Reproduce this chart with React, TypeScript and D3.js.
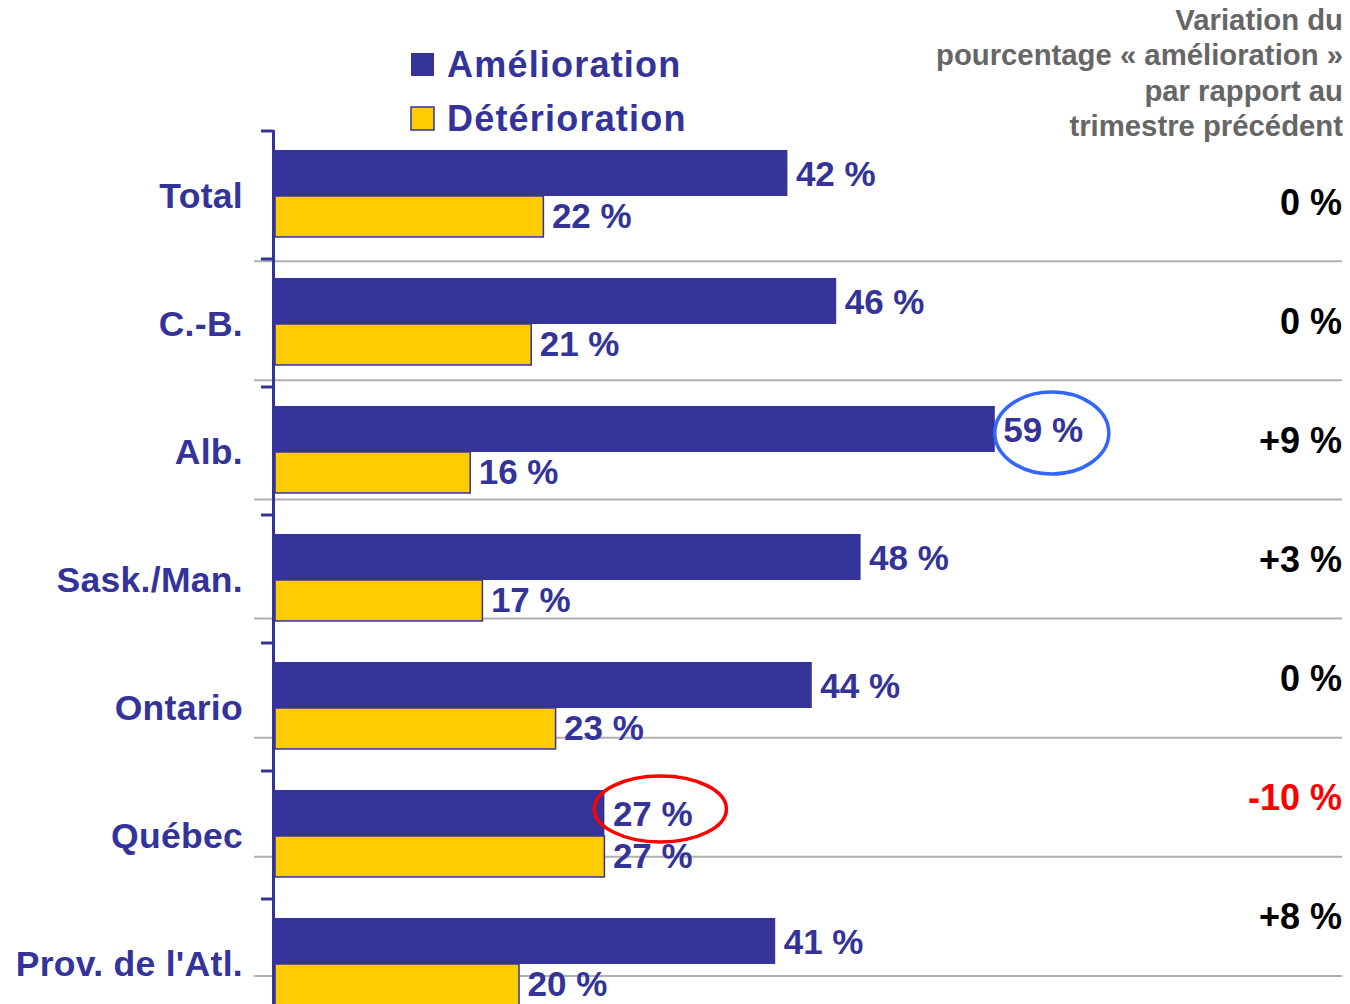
import React from "react";
import * as d3 from "d3";

const categories = ["Total", "C.-B.", "Alb.", "Sask./Man.", "Ontario", "Québec", "Prov. de l'Atl."];
const amelioration = [42, 46, 59, 48, 44, 27, 41];
const deterioration = [22, 21, 16, 17, 23, 27, 20];
const variation = [0, 0, 9, 3, 0, -10, 8];
const headerLines = ["Variation du", "pourcentage « amélioration »", "par rapport au", "trimestre précédent"];
const legendItems = ["Amélioration", "Détérioration"];
const highlights = [
  { category: "Alb.", color: "#3366FF", rx: 57, ry: 41, dy: 4, dx: 57 },
  { category: "Québec", color: "#FF0000", rx: 66, ry: 33, dy: -4, dx: 56 },
];

const W = 1350;
const H = 1004;
const BLUE = "#333399";
const YELLOW = "#FFCC00";
const FONT = "'Liberation Sans', Arial, Helvetica, sans-serif";

function fmtVar(v: number) {
  if (v > 0) return `+${v} %`;
  if (v < 0) return `-${Math.abs(v)} %`;
  return "0 %";
}

export default function App() {
  const x = d3.scaleLinear().domain([0, 10]).range([275, 397]);
  const y = d3.scaleBand<string>().domain(categories).range([130, 1026]).padding(0);
  const row = d3.scaleBand<string>().domain(categories).range([142, 976]).padding(0);
  const step = y.step();
  const blueOff = step * 0.156;
  const blueH = 46;
  const yelH = 41;

  return (
    <svg
      width={W}
      height={H}
      style={{ position: "absolute", left: 0, top: 0, display: "block", background: "#fff" }}
      fontFamily={FONT}
    >
      {/* separator lines */}
      {categories.map((c) => (
        <line
          key={"sep" + c}
          x1={254}
          x2={1342}
          y1={(row(c) as number) + row.step()}
          y2={(row(c) as number) + row.step()}
          stroke="#b0b0b0"
          strokeWidth={2}
        />
      ))}

      {/* header */}
      <text fill="#666666" fontWeight="bold" fontSize={29.3} textAnchor="end">
        {headerLines.map((l, i) => (
          <tspan key={l} x={1343} y={30 + i * 35.3}>
            {l}
          </tspan>
        ))}
      </text>

      {/* legend */}
      {legendItems.map((l, i) => (
        <g key={l}>
          <rect
            x={411}
            y={53 + i * 54}
            width={23}
            height={23}
            fill={i === 0 ? BLUE : YELLOW}
            stroke={BLUE}
            strokeWidth={i === 0 ? 0 : 1.5}
          />
          <text x={447} y={77 + i * 54} fill={BLUE} fontWeight="bold" fontSize={36} letterSpacing={1.2}>
            {l}
          </text>
        </g>
      ))}

      {/* bars */}
      {categories.map((c, i) => {
        const y0 = y(c) as number;
        return (
          <g key={"bar" + c}>
            <rect x={x(0)} y={y0 + blueOff} width={x(amelioration[i]) - x(0)} height={blueH} fill={BLUE} />
            <rect
              x={x(0)}
              y={y0 + blueOff + blueH}
              width={x(deterioration[i]) - x(0)}
              height={yelH}
              fill={YELLOW}
              stroke={BLUE}
              strokeWidth={1.5}
            />
            <text x={x(amelioration[i]) + 8.5} y={y0 + blueOff + 36} fill={BLUE} fontWeight="bold" fontSize={35}>
              {amelioration[i]} %
            </text>
            <text
              x={x(deterioration[i]) + 8.5}
              y={y0 + blueOff + blueH + 32}
              fill={BLUE}
              fontWeight="bold"
              fontSize={35}
            >
              {deterioration[i]} %
            </text>
            <text
              x={243}
              y={y0 + step / 2 + 14}
              fill={BLUE}
              fontWeight="bold"
              fontSize={35.5}
              textAnchor="end"
              letterSpacing={0.3}
            >
              {c}
            </text>
          </g>
        );
      })}

      {/* axis */}
      <line x1={273.5} x2={273.5} y1={130} y2={H} stroke={BLUE} strokeWidth={3} />
      {categories.map((c) => (
        <line
          key={"tick" + c}
          x1={261}
          x2={273.5}
          y1={(y(c) as number) + 1}
          y2={(y(c) as number) + 1}
          stroke={BLUE}
          strokeWidth={3}
        />
      ))}

      {/* variation column */}
      {categories.map((c, i) => (
        <text
          key={"var" + c}
          x={1342}
          y={(row(c) as number) + row.step() / 2 + 13}
          fill={variation[i] < 0 ? "#FF0000" : "#000000"}
          fontWeight="bold"
          fontSize={36}
          textAnchor="end"
        >
          {fmtVar(variation[i])}
        </text>
      ))}

      {/* highlights */}
      {highlights.map((h) => {
        const i = categories.indexOf(h.category);
        const cx = x(amelioration[i]) + h.dx;
        const cy = (y(h.category) as number) + blueOff + blueH / 2 + h.dy;
        return (
          <ellipse
            key={"hl" + h.category}
            cx={cx}
            cy={cy}
            rx={h.rx}
            ry={h.ry}
            fill="none"
            stroke={h.color}
            strokeWidth={3.5}
          />
        );
      })}
    </svg>
  );
}
